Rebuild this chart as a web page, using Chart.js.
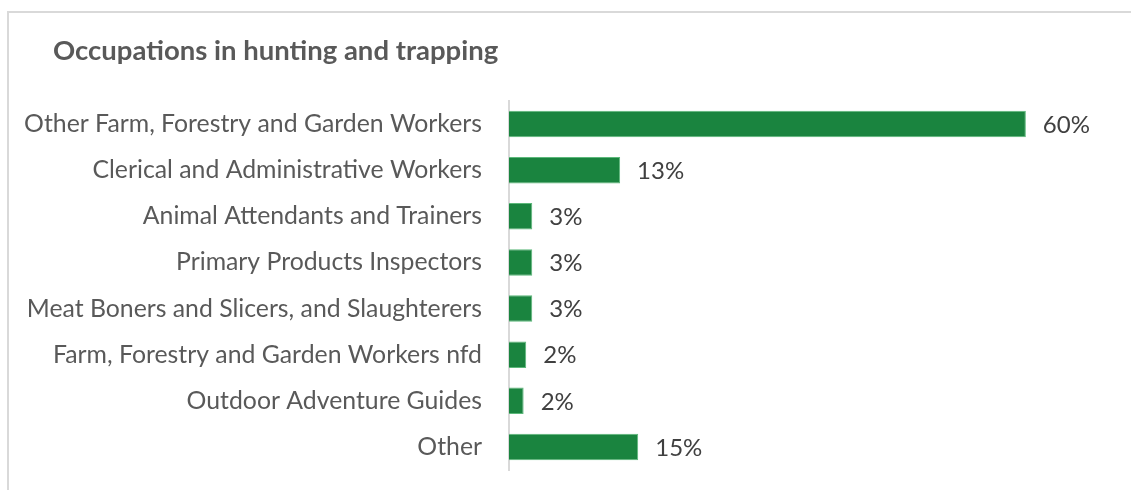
<!DOCTYPE html>
<html>
<head>
<meta charset="utf-8">
<script src="https://cdn.jsdelivr.net/npm/chart.js@4/dist/chart.umd.min.js"></script>
<style>
  html, body { margin: 0; padding: 0; background: #fff; }
  #wrap { position: relative; width: 1131px; height: 490px; }
</style>
</head>
<body>
<div id="wrap"><canvas id="barChart"></canvas></div>
<script>
var titleText = 'Occupations in hunting and trapping';
var categories = [
    'Other Farm, Forestry and Garden Workers',
    'Clerical and Administrative Workers',
    'Animal Attendants and Trainers',
    'Primary Products Inspectors',
    'Meat Boners and Slicers, and Slaughterers',
    'Farm, Forestry and Garden Workers nfd',
    'Outdoor Adventure Guides',
    'Other'
];
var shares = [60, 12.9, 2.7, 2.7, 2.7, 2.0, 1.7, 15.0];

var fontFamily = 'Lato, "Open Sans", sans-serif';

// frame + title drawn by hand so the title can sit where it does in the original
var framePlugin = {
    id: 'frame',
    beforeDraw: function(chart) {
        var ctx = chart.ctx;
        ctx.save();
        ctx.strokeStyle = '#d9d9d9';
        ctx.lineWidth = 2;
        ctx.strokeRect(8, 12, 1200, 600);
        ctx.fillStyle = '#595959';
        ctx.font = 'bold 27.5px ' + fontFamily;
        ctx.textBaseline = 'middle';
        ctx.fillText(titleText, 53, 51);
        ctx.restore();
    }
};

// value labels to the right of each bar
var valueLabels = {
    id: 'valueLabels',
    afterDatasetsDraw: function(chart) {
        var ctx = chart.ctx;
        var meta = chart.getDatasetMeta(0);
        ctx.save();
        ctx.fillStyle = '#404040';
        ctx.font = '24px ' + fontFamily;
        ctx.textBaseline = 'middle';
        meta.data.forEach(function(bar, i) {
            ctx.fillText(Math.round(shares[i]) + '%', bar.x + 17, bar.y + 1);
        });
        ctx.restore();
    }
};

var ctx = document.getElementById('barChart').getContext('2d');
new Chart(ctx, {
    type: 'bar',
    data: {
        labels: categories,
        datasets: [{
            data: shares,
            backgroundColor: '#1a843f',
            borderColor: '#5cb87a',
            borderWidth: 1,
            categoryPercentage: 1,
            barPercentage: 0.575
        }]
    },
    options: {
        indexAxis: 'y',
        responsive: true,
        maintainAspectRatio: false,
        animation: false,
        layout: {
            padding: { top: 101, bottom: 20, left: 0, right: 19 }
        },
        scales: {
            x: {
                display: false,
                min: 0,
                max: 70
            },
            y: {
                afterFit: function(scale) { scale.width = 509; },
                // invisible tick marks give the gap between labels and axis
                grid: { display: false, drawTicks: true, tickLength: 27 },
                border: { display: true, color: '#d9d9d9', width: 2 },
                ticks: {
                    padding: 0,
                    color: '#595959',
                    font: { family: fontFamily, size: 24.8 }
                }
            }
        },
        plugins: {
            legend: { display: false },
            title: { display: false },
            tooltip: { enabled: false }
        }
    },
    plugins: [framePlugin, valueLabels]
});
</script>
</body>
</html>
